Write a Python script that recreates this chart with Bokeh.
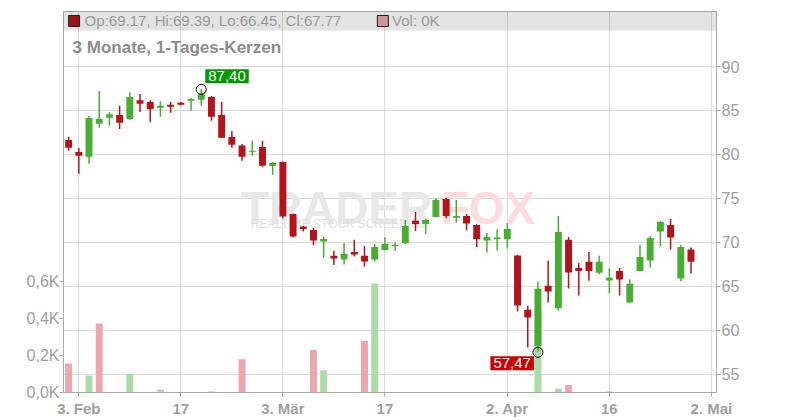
from bokeh.plotting import figure
from bokeh.models import Range1d, LinearAxis, FixedTicker, ColumnDataSource, Label, BoxAnnotation
from bokeh.embed import file_html
from bokeh.resources import INLINE

# ---- data (trading-day index 0 = 31 Jan) ----
opens = [81.63, 80.27, 79.73, 83.48, 84.17, 84.47, 84.02, 86.17, 85.95, 85.30,
         85.64, 85.87, 86.10, 86.21, 86.52, 84.47, 81.97, 81.02, 80.30, 80.83,
         78.67, 79.13, 73.22, 71.78, 71.40, 70.08, 68.45, 68.03, 68.90, 68.45,
         68.03, 69.13, 69.58, 69.89, 72.46, 72.08, 72.88, 74.92, 72.80, 72.99,
         71.97, 70.19, 70.34, 70.34, 68.48, 62.31, 58.18, 65.04, 62.50, 70.27,
         67.08, 67.77, 66.52, 65.64, 66.74, 63.14, 66.74, 67.92, 71.21, 71.97,
         65.87, 69.17]
highs = [82.00, 80.72, 84.36, 87.20, 84.81, 85.53, 87.08, 86.86, 86.17, 86.06,
         85.95, 85.95, 86.44, 87.40, 86.63, 85.95, 82.65, 81.17, 81.55, 81.55,
         79.13, 79.20, 73.25, 71.89, 71.63, 70.64, 69.02, 69.92, 70.27, 69.58,
         69.81, 70.57, 70.00, 72.54, 73.45, 72.65, 75.00, 75.04, 74.81, 73.22,
         72.05, 71.06, 71.48, 72.16, 68.56, 62.77, 65.53, 67.88, 72.99, 70.61,
         67.65, 68.90, 68.45, 67.05, 67.08, 65.80, 69.70, 70.72, 72.42, 72.65,
         69.70, 69.39]
lows = [80.42, 77.80, 78.94, 83.03, 83.26, 82.88, 83.94, 84.81, 83.67, 84.28,
        84.73, 85.57, 84.96, 85.53, 83.83, 81.85, 80.76, 79.28, 79.85, 78.60,
        77.69, 72.69, 70.53, 71.21, 69.70, 68.26, 67.42, 67.46, 68.37, 67.23,
        67.80, 69.05, 69.02, 69.81, 71.29, 70.95, 72.88, 72.77, 72.23, 71.33,
        69.47, 68.83, 69.05, 69.28, 62.12, 58.03, 57.47, 63.14, 62.20, 64.73,
        63.94, 65.61, 66.40, 64.17, 63.94, 63.14, 66.70, 67.12, 69.51, 69.17,
        65.57, 66.45]
closes = [80.76, 79.85, 84.13, 84.02, 84.58, 83.60, 86.52, 85.76, 85.15, 85.53,
          85.42, 85.64, 86.29, 86.93, 84.28, 81.89, 81.10, 79.73, 80.42, 78.71,
          79.02, 72.92, 70.64, 71.52, 70.19, 70.38, 68.14, 68.67, 68.60, 67.80,
          69.47, 69.81, 69.70, 71.86, 72.08, 72.54, 74.81, 72.99, 72.99, 72.12,
          70.34, 70.61, 70.53, 71.52, 62.80, 61.44, 64.70, 64.39, 71.17, 66.55,
          66.74, 66.74, 67.77, 65.95, 65.76, 65.27, 68.33, 70.49, 72.31, 70.53,
          69.47, 67.77]
volume_k = [0.157, 0, 0.092, 0.373, 0, 0, 0.10, 0, 0, 0.016,
            0, 0, 0, 0, 0.005, 0, 0, 0.18, 0, 0,
            0, 0, 0, 0, 0.23, 0.12, 0, 0, 0, 0.28,
            0.59, 0, 0, 0, 0, 0, 0, 0, 0, 0,
            0, 0, 0, 0, 0, 0, 0.45, 0, 0.02, 0.04,
            0, 0, 0, 0.005, 0, 0, 0, 0, 0, 0,
            0, 0]

x_ticks = [1, 11, 21, 31, 43, 53, 63]
x_labels = ["3. Feb", "17", "3. Mär", "17", "2. Apr", "16", "2. Mai"]
price_ticks = [55, 60, 65, 70, 75, 80, 85, 90]
vol_ticks = [0.0, 0.2, 0.4, 0.6]
vol_tick_labels = ["0,0K", "0,2K", "0,4K", "0,6K"]
title_text = "3 Monate, 1-Tages-Kerzen"

RED = "#b3141b"
GREEN = "#49ad33"
VOL_RED = "#eea6ae"
VOL_GREEN = "#abdca6"
GRID = "#dddddd"
AXIS = "#aaaaaa"
TXT = "#a0a0a0"
FONT = "Liberation Sans"

n = len(opens)
idx = list(range(n))
candle_col = [GREEN if c >= o else RED for o, c in zip(opens, closes)]
vol_col = [VOL_GREEN if (closes[i] >= closes[i - 1] if i > 0 else closes[0] >= opens[0]) else VOL_RED
           for i in range(n)]

src = ColumnDataSource(dict(
    x=idx, o=opens, h=highs, l=lows, c=closes,
    top=[max(a, b) for a, b in zip(opens, closes)],
    bot=[min(a, b) for a, b in zip(opens, closes)],
    col=candle_col, vol=volume_k, vcol=vol_col))

p = figure(width=800, height=420, x_range=Range1d(-0.5, 63.5), y_range=Range1d(52.9, 96.26),
           y_axis_location="right", output_backend="svg", toolbar_location=None,
           min_border_left=63, min_border_right=84, min_border_top=11, min_border_bottom=28)
p.background_fill_color = "white"
p.border_fill_color = "white"
p.outline_line_color = AXIS
p.extra_y_ranges = {"vol": Range1d(0, 2.06)}

# grids
p.xgrid.ticker = FixedTicker(ticks=x_ticks)
p.ygrid.ticker = FixedTicker(ticks=price_ticks)
p.xgrid.grid_line_color = GRID
p.ygrid.grid_line_color = GRID

# header band
p.add_layout(BoxAnnotation(bottom=94.1, fill_color="black", fill_alpha=0.11, line_color=None))

# right price axis
ya = p.yaxis[0]
ya.ticker = FixedTicker(ticks=price_ticks)
ya.axis_line_color = AXIS
ya.major_tick_line_color = AXIS
ya.major_tick_out = 4
ya.major_tick_in = 0
ya.minor_tick_line_color = None
ya.major_label_standoff = 1
ya.major_label_text_font = FONT
ya.major_label_text_font_size = "16px"
ya.major_label_text_color = TXT

# left volume axis
va = LinearAxis(y_range_name="vol", ticker=FixedTicker(ticks=vol_ticks))
va.major_label_overrides = {t: s for t, s in zip(vol_ticks, vol_tick_labels)}
va.axis_line_color = AXIS
va.major_tick_line_color = AXIS
va.major_tick_out = 4
va.major_tick_in = 0
va.minor_tick_line_color = None
va.major_label_standoff = 0
va.major_label_text_font = FONT
va.major_label_text_font_size = "16px"
va.major_label_text_color = TXT
p.add_layout(va, "left")

# bottom date axis
xa = p.xaxis[0]
xa.ticker = FixedTicker(ticks=x_ticks)
xa.major_label_overrides = {t: s for t, s in zip(x_ticks, x_labels)}
xa.axis_line_color = AXIS
xa.major_tick_line_color = AXIS
xa.major_tick_out = 4
xa.major_tick_in = 0
xa.minor_tick_line_color = None
xa.major_label_standoff = 3
xa.major_label_text_font = FONT
xa.major_label_text_font_size = "15px"
xa.major_label_text_font_style = "bold"
xa.major_label_text_color = TXT

# watermark
for txt, xx, yy, size, colr in [("TRADER", 16.86, 73.94, "46px", "#e8e8e8"),
                                ("FOX", 36.47, 73.94, "46px", "#fcdcdc"),
                                ("REALTIME STOCK SCREENING", 17.84, 72.12, "12px", "#e0e0e0")]:
    p.add_layout(Label(x=xx, y=yy, text=txt, text_align="left", text_baseline="alphabetic",
                       text_font=FONT, text_font_size=size,
                       text_font_style="bold" if size == "46px" else "normal",
                       text_color=colr, level="underlay"))

# volume bars
p.vbar(x="x", width=0.68, top="vol", bottom=0, fill_color="vcol", line_color=None,
       y_range_name="vol", source=src)

# candles
p.segment(x0="x", y0="l", x1="x", y1="h", line_color="col", line_width=1.5, source=src)
p.vbar(x="x", width=0.68, top="top", bottom="bot", fill_color="col", line_color=None, source=src)

# header texts
last = n - 1
hdr = f"Op:{opens[last]:.2f}, Hi:{highs[last]:.2f}, Lo:{lows[last]:.2f}, Cl:{closes[last]:.2f}"
p.scatter(x=[0.54], y=[95.18], marker="square", size=11, fill_color=RED, line_color="#222222")
p.add_layout(Label(x=1.57, y=95.18, text=hdr, text_align="left", text_baseline="middle",
                   text_font=FONT, text_font_size="15px", text_color="#999999"))
p.scatter(x=[30.8], y=[95.18], marker="square", size=11, fill_color=VOL_RED, line_color="#222222")
p.add_layout(Label(x=31.7, y=95.18, text=f"Vol: {volume_k[last]:.0f}K", text_align="left",
                   text_baseline="middle", text_font=FONT, text_font_size="15px",
                   text_color="#999999"))
p.add_layout(Label(x=0.39, y=92.16, text=title_text, text_align="left", text_baseline="middle",
                   text_font=FONT, text_font_size="17px", text_font_style="bold",
                   text_color="#8c8c8c"))

# extreme markers
hi_i = max(range(n), key=lambda i: highs[i])
lo_i = min(range(n), key=lambda i: lows[i])
p.scatter(x=[hi_i, lo_i], y=[highs[hi_i], lows[lo_i]], marker="circle", size=10,
          fill_color=None, line_color="black", line_width=1)
p.add_layout(Label(x=hi_i, y=highs[hi_i], x_offset=4, y_offset=13,
                   text=f"{highs[hi_i]:.2f}".replace(".", ","), text_align="left",
                   text_baseline="middle", text_font=FONT, text_font_size="15px",
                   text_color="white", background_fill_color="#009a00",
                   padding=dict(top=2, bottom=2, left=3, right=3)))
p.add_layout(Label(x=lo_i, y=lows[lo_i], x_offset=-4, y_offset=-11,
                   text=f"{lows[lo_i]:.2f}".replace(".", ","), text_align="right",
                   text_baseline="middle", text_font=FONT, text_font_size="15px",
                   text_color="white", background_fill_color="#cc0000",
                   padding=dict(top=2, bottom=2, left=3, right=3)))

open("out.html", "w").write(file_html(p, INLINE))
